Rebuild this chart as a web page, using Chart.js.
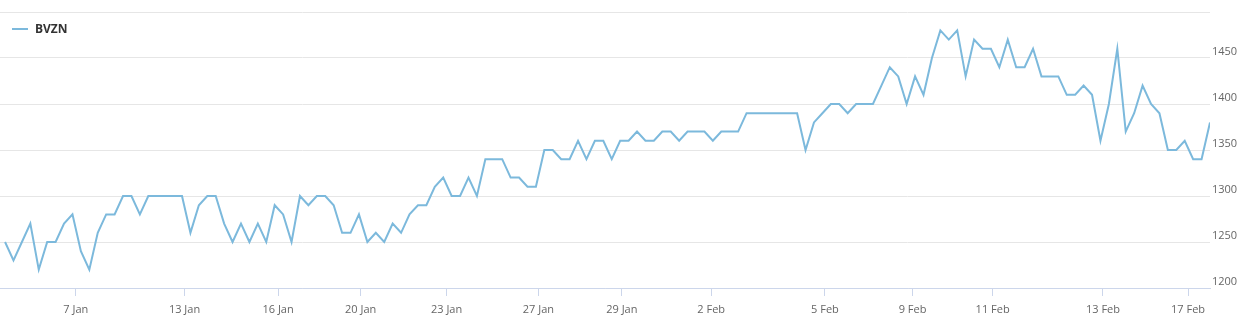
<!DOCTYPE html>
<html>
<head>
<meta charset="utf-8">
<script src="https://cdn.jsdelivr.net/npm/chart.js@4/dist/chart.umd.min.js"></script>
<style>
  html, body { margin: 0; padding: 0; background: #fff; }
  #wrap { position: relative; width: 1245px; height: 328px; }
  #legend { position: absolute; left: 12px; top: 20px; font: bold 12px "Open Sans", sans-serif; color: #333; display: flex; align-items: center; }
  #legend .sym { display: inline-block; width: 16px; height: 2px; margin-right: 7px; }
</style>
</head>
<body>
<div id="wrap">
  <canvas id="chart" width="1245" height="328"></canvas>
  <div id="legend"></div>
</div>
<script>
const seriesName = "BVZN";
const lineColor = "#7cb9dc";

// closing prices, one per session
const prices = [
  1250, 1230, 1250, 1270, 1220, 1250, 1250, 1270, 1280, 1240,
  1220, 1260, 1280, 1280, 1300, 1300, 1280, 1300, 1300, 1300,
  1300, 1300, 1260, 1290, 1300, 1300, 1270, 1250, 1270, 1250,
  1270, 1250, 1290, 1280, 1250, 1300, 1290, 1300, 1300, 1290,
  1260, 1260, 1280, 1250, 1260, 1250, 1270, 1260, 1280, 1290,
  1290, 1310, 1320, 1300, 1300, 1320, 1300, 1340, 1340, 1340,
  1320, 1320, 1310, 1310, 1350, 1350, 1340, 1340, 1360, 1340,
  1360, 1360, 1340, 1360, 1360, 1370, 1360, 1360, 1370, 1370,
  1360, 1370, 1370, 1370, 1360, 1370, 1370, 1370, 1390, 1390,
  1390, 1390, 1390, 1390, 1390, 1350, 1380, 1390, 1400, 1400,
  1390, 1400, 1400, 1400, 1420, 1440, 1430, 1400, 1430, 1410,
  1450, 1480, 1470, 1480, 1430, 1470, 1460, 1460, 1440, 1470,
  1440, 1440, 1460, 1430, 1430, 1430, 1410, 1410, 1420, 1410,
  1360, 1400, 1460, 1370, 1390, 1420, 1400, 1390, 1350, 1350,
  1360, 1340, 1340, 1380
];

// where each date label falls along the series
const dateLabels = ["7 Jan", "13 Jan", "16 Jan", "20 Jan", "23 Jan", "27 Jan", "29 Jan",
                    "2 Feb", "5 Feb", "9 Feb", "11 Feb", "13 Feb", "17 Feb"];
const datePos = [8.4, 21.3, 32.4, 42.2, 52.4, 63.3, 73.2, 83.8, 97.3, 107.7, 117.2, 130.3, 140.4];

const yTicks = [1200, 1250, 1300, 1350, 1400, 1450, 1500];

const points = prices.map((v, i) => ({ x: i, y: v }));

document.getElementById("legend").innerHTML =
  `<span class="sym" style="background:${lineColor}"></span><span>${seriesName}</span>`;

const font = { family: "'Open Sans', sans-serif", size: 11 };

new Chart(document.getElementById("chart"), {
  type: "line",
  data: {
    datasets: [{
      label: seriesName,
      data: points,
      borderColor: lineColor,
      borderWidth: 2,
      pointRadius: 0,
      tension: 0,
      fill: false
    }]
  },
  options: {
    responsive: false,
    animation: false,
    layout: { padding: { top: 12, left: 0, right: 0, bottom: 0 } },
    plugins: { legend: { display: false }, tooltip: { enabled: false } },
    scales: {
      x: {
        type: "linear",
        min: -0.6,
        max: prices.length - 1,
        afterBuildTicks: s => { s.ticks = datePos.map(p => ({ value: p })); },
        afterFit: s => { s.height = 40; },
        ticks: {
          color: "#666",
          font: font,
          padding: 7,
          maxRotation: 0,
          autoSkip: false,
          callback: (v) => dateLabels[datePos.indexOf(v)]
        },
        grid: {
          drawOnChartArea: false,
          color: "#ccd6eb",
          tickLength: 8
        },
        border: { color: "#ccd6eb" }
      },
      y: {
        position: "right",
        min: 1200,
        max: 1500,
        afterBuildTicks: s => { s.ticks = yTicks.map(v => ({ value: v })); },
        afterFit: s => { s.width = 35; },
        ticks: {
          color: "#666",
          font: font,
          padding: 2,
          labelOffset: -6,
          callback: v => v === 1500 ? "" : v
        },
        grid: { color: "#e6e6e6", drawTicks: false },
        border: { display: false }
      }
    }
  }
});
</script>
</body>
</html>
